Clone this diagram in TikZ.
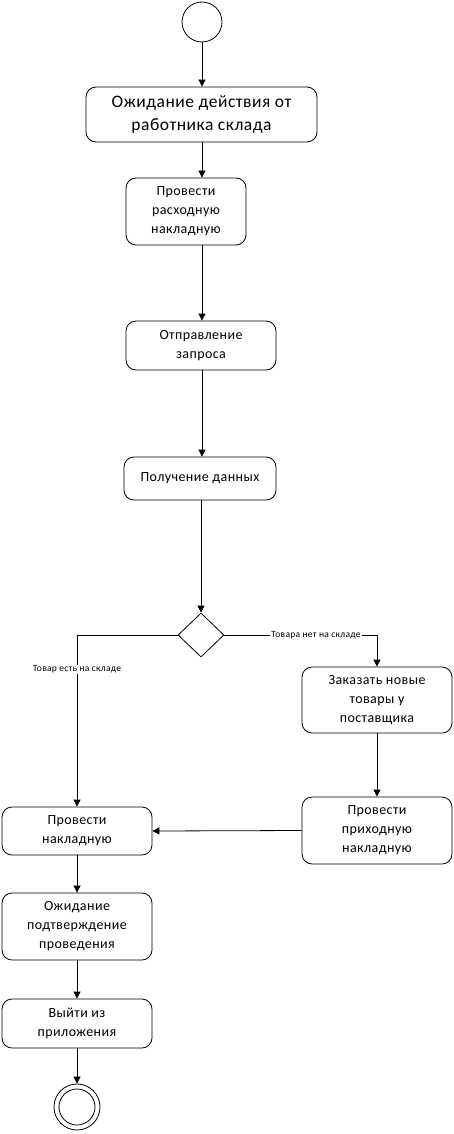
\documentclass[tikz,border=0pt]{standalone}
\usepackage{fontspec}
\setmainfont{Carlito}[LetterSpace=3]
\usepackage{tikz}
\usetikzlibrary{shapes.geometric, arrows.meta, positioning, calc}
\tikzset{
  actbox/.style={
    draw, rounded corners=10pt, line width=0.8pt, align=center,
    font=\fontsize{14}{19}\selectfont, fill=white, minimum width=150pt,
    inner sep=2pt
  },
  actboxbig/.style={
    actbox, font=\fontsize{17.5}{23}\selectfont, minimum width=231pt,
    minimum height=55pt
  },
  flowarrow/.style={
    -{Triangle[length=7pt, width=7pt]}, line width=0.8pt
  },
  flowlabel/.style={
    font=\fontsize{9.5}{11}\selectfont, fill=white, inner sep=1pt
  },
  decision/.style={
    diamond, draw, line width=0.8pt, minimum width=46pt, minimum height=44pt,
    inner sep=0pt
  },
}

\begin{document}
\begin{tikzpicture}[x=1pt, y=-1pt]
  \useasboundingbox (0,0) rectangle (454,1134);

  % Start
  \node[circle, draw, line width=0.8pt, minimum size=40pt, inner sep=0pt]
    (start) at (202,22) {};

  % Main column
  \node[actboxbig] (wait) at (201.5,114.5)
    {Ожидание действия от\\работника склада};
  \node[actbox, minimum width=120pt, minimum height=67pt] (issue) at (186,211.5)
    {Провести\\расходную\\накладную};
  \node[actbox, minimum height=49pt] (request) at (201,345.5)
    {Отправление\\запроса};
  \node[actbox, minimum width=152pt, minimum height=43pt] (receive) at (200,478.5)
    {Получение данных};
  \node[decision] (check) at (201,635) {};

  % Right branch
  \node[actbox, minimum height=66pt] (order) at (377,700)
    {Заказать новые\\товары у\\поставщика};
  \node[actbox, minimum height=67pt] (incoming) at (377,830.5)
    {Провести\\приходную\\накладную};

  % Left column
  \node[actbox, minimum height=48pt] (invoice) at (77,831)
    {Провести\\накладную};
  \node[actbox, minimum height=67pt] (confirm) at (77,926.5)
    {Ожидание\\подтверждение\\проведения};
  \node[actbox, minimum height=49pt] (quit) at (77,1023.5)
    {Выйти из\\приложения};

  % End
  \node[circle, draw, line width=0.8pt, minimum size=46pt, inner sep=0pt]
    (finish) at (77,1107) {};
  \node[circle, draw, line width=0.8pt, minimum size=36pt, inner sep=0pt]
    at (finish) {};

  % Flow
  \draw[flowarrow] (start) -- (wait.north -| start);
  \draw[flowarrow] (wait.south -| start) -- (issue.north -| start);
  \draw[flowarrow] (issue.south -| start) -- (request.north -| start);
  \draw[flowarrow] (request.south -| start) -- (receive.north -| start);
  \draw[flowarrow] (receive.south -| check) -- (check.north);
  \draw[flowarrow] (check.west) -| node[flowlabel, pos=0.6] {Товар есть на складе}
    (invoice.north);
  \draw[flowarrow] (check.east) -| node[flowlabel, pos=0.3] {Товара нет на складе}
    (order.north);
  \draw[flowarrow] (order) -- (incoming);
  \draw[flowarrow] (incoming.west) -- (invoice.east);
  \draw[flowarrow] (invoice) -- (confirm);
  \draw[flowarrow] (confirm) -- (quit);
  \draw[flowarrow] (quit) -- (finish);
\end{tikzpicture}
\end{document}
